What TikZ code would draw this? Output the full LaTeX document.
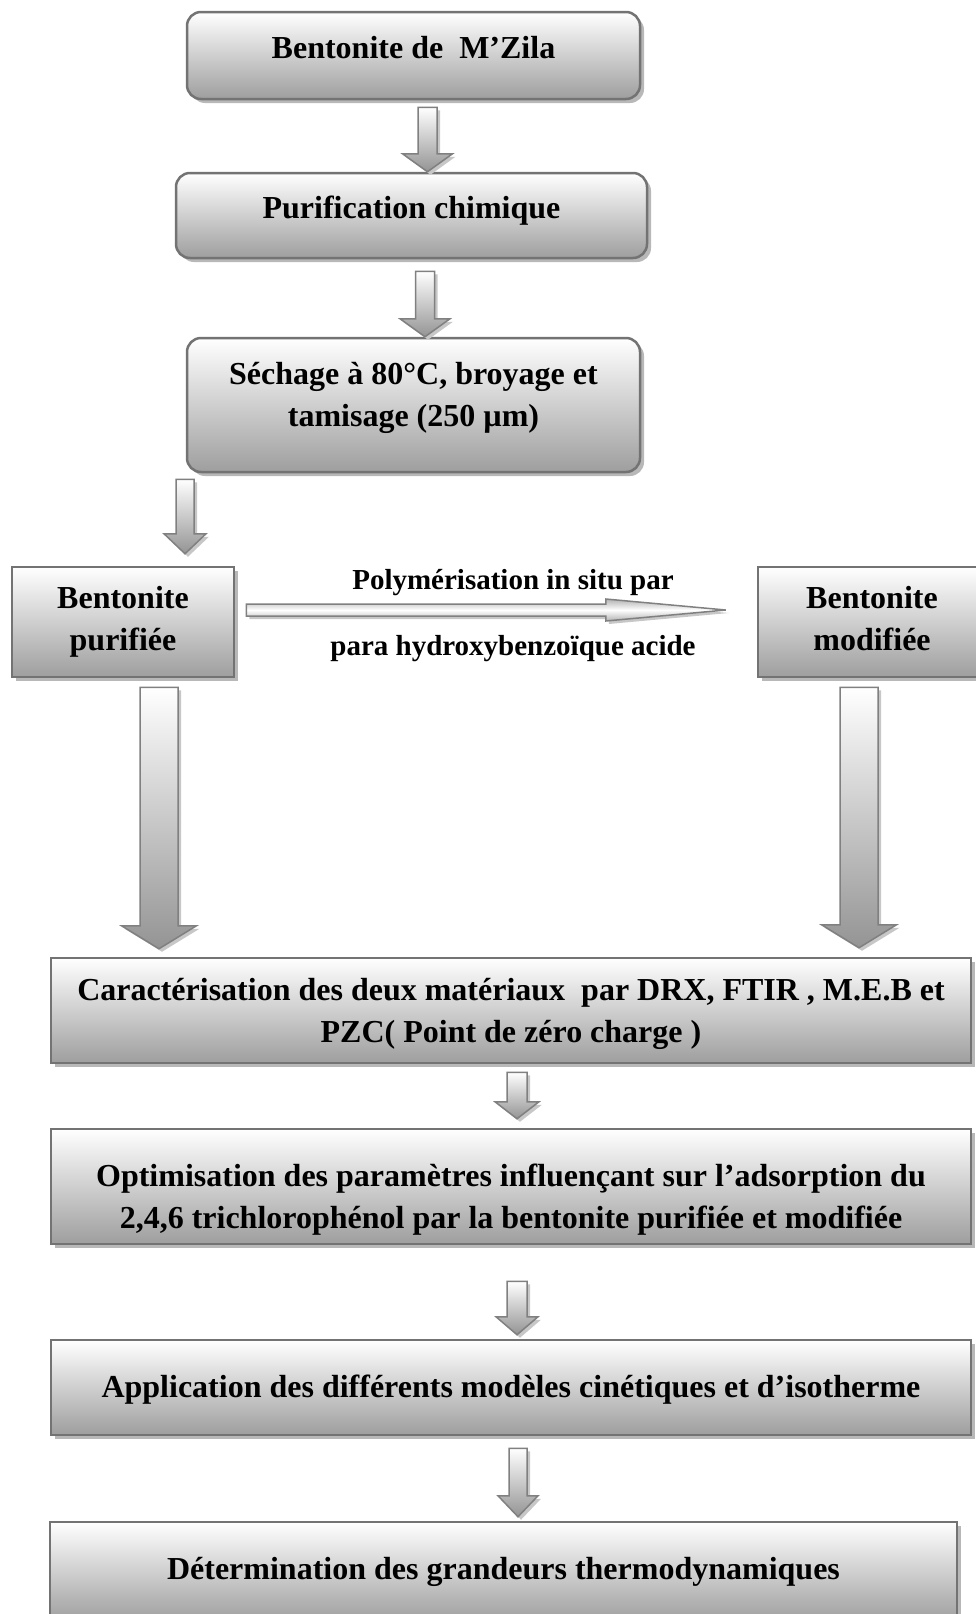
\documentclass[tikz,border=0pt]{standalone}
\usepackage{fontspec}
\setmainfont{Liberation Serif}
\usetikzlibrary{calc,shadows}

\newcommand{\flechebas}[5]{%
  \path[fleche] let \p1=(#1), \p2=(#2) in
    (\x1-#3,\y1) -- (\x1+#3,\y1) -- (\x1+#3,\y2+#5) -- (\x1+#4,\y2+#5)
    -- (\x1,\y2) -- (\x1-#4,\y2+#5) -- (\x1-#3,\y2+#5) -- cycle;}
\newcommand{\flechedroite}[5]{%
  \path[flecheh] let \p1=(#1), \p2=(#2) in
    (\x1,\y1+#3) -- (\x2-#5,\y1+#3) -- (\x2-#5,\y1+#4) -- (\x2,\y1)
    -- (\x2-#5,\y1-#4) -- (\x2-#5,\y1-#3) -- (\x1,\y1-#3) -- cycle;}

\begin{document}
\begin{tikzpicture}[x=1pt,y=-1pt,
  texte/.style={align=center,font=\fontsize{32}{42}\selectfont\bfseries},
  boite/.style={draw=black!55,line width=2.5pt,top color=white,bottom color=black!38,
    drop shadow={shadow xshift=4pt,shadow yshift=-4pt,fill=black!28,opacity=1},
    texte,inner sep=0pt},
  arrondie/.style={boite,rounded corners=14pt},
  fleche/.style={draw=black!50,line width=1.5pt,top color=white,bottom color=black!42,
    drop shadow={shadow xshift=3pt,shadow yshift=-3pt,fill=black!22,opacity=1}},
  flecheh/.style={fleche,top color=black!30,bottom color=black!30,middle color=white},
  etiquette/.style={font=\fontsize{29}{35}\selectfont\bfseries}]
\useasboundingbox (0,0) rectangle (976,1614);

\node[arrondie,minimum width=453pt,minimum height=87pt,
  label={[texte,yshift=8pt]center:{Bentonite de~ M’Zila}}] (b1) at (413.5,55.5) {};
\node[arrondie,minimum width=471pt,minimum height=85pt,
  label={[texte,yshift=5pt]center:{Purification chimique}}] (b2) at (411.5,215.5) {};
\node[arrondie,minimum width=453pt,minimum height=134pt,
  label={[texte,yshift=7pt]center:{Séchage à 80°C, broyage et\\tamisage (250 µm)}}] (b3) at (413.5,405) {};

\node[boite,minimum width=222pt,minimum height=110pt] (b4) at (123,622) {Bentonite\\purifiée};
\node[boite,minimum width=228pt,minimum height=110pt,
  label={[texte,yshift=3pt]center:{Bentonite\\modifiée}}] (b5) at (872,622) {};

\node[boite,minimum width=920pt,minimum height=105pt,
  label={[texte,yshift=-3pt]center:{Caractérisation des deux matériaux~ par DRX, FTIR , M.E.B et\\PZC( Point de zéro charge )}}] (b6) at (511,1010.5) {};
\node[boite,minimum width=920pt,minimum height=115pt,
  label={[texte,yshift=-13pt]center:{Optimisation des paramètres influençant sur l’adsorption du\\2,4,6 trichlorophénol par la bentonite purifiée et modifiée}}] (b7) at (511,1186.5) {};
\node[boite,minimum width=920pt,minimum height=95pt,
  label={[texte,yshift=-2pt]center:{Application des différents modèles cinétiques et d’isotherme}}] (b8) at (511,1387.5) {};
\node[boite,minimum width=907pt,minimum height=100pt] (b9) at (503.5,1572) {Détermination des grandeurs thermodynamiques};

\flechebas{[xshift=14pt,yshift=-7pt]b1.south}{b2.north}{9.5pt}{25pt}{18pt}
\flechebas{[xshift=13.5pt,yshift=-12pt]b2.south}{b3.north}{9.5pt}{25pt}{18pt}
\flechebas{[xshift=-228.5pt,yshift=-6pt]b3.south}{[yshift=12pt]b4.north}{9pt}{21pt}{20pt}

\flechedroite{[xshift=11pt,yshift=12pt]b4.east}{[xshift=-31pt]b5.west}{6pt}{11pt}{120pt}
\node[etiquette] (poly) at (513,583) {Polymérisation in situ par};
\node[etiquette] (acide) at (513,649) {para hydroxybenzoïque acide};

\flechebas{[xshift=36pt,yshift=-9pt]b4.south}{[yshift=8pt]b6.north}{19pt}{37.5pt}{23pt}
\flechebas{[xshift=-13pt,yshift=-9pt]b5.south}{[yshift=9pt]b6.north}{19pt}{37.5pt}{23pt}
\flechebas{[xshift=6pt,yshift=-8pt]b6.south}{[yshift=9pt]b7.north}{10pt}{22pt}{17pt}
\flechebas{[xshift=6pt,yshift=-36pt]b7.south}{[yshift=4pt]b8.north}{10pt}{21pt}{18pt}
\flechebas{[xshift=7pt,yshift=-12pt]b8.south}{[yshift=4pt]b9.north}{9pt}{20pt}{21pt}
\end{tikzpicture}
\end{document}
